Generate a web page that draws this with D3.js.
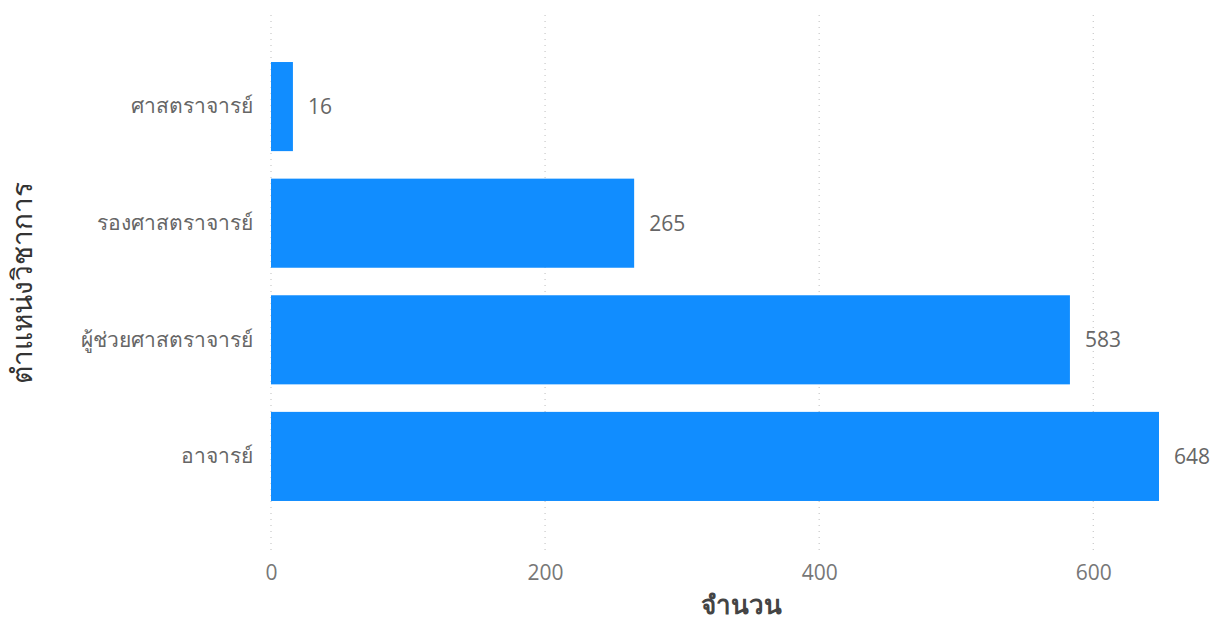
<!DOCTYPE html>
<html><head><meta charset="utf-8">
<script src="https://cdn.jsdelivr.net/npm/d3@7"></script>
<style>
body{margin:0;background:#fff;}
text{font-family:"Segoe UI","Open Sans","Noto Sans","DejaVu Sans",sans-serif;}
</style></head>
<body><svg id="c" width="1212" height="622"></svg>
<script>
const categories = ["ศาสตราจารย์","รองศาสตราจารย์","ผู้ช่วยศาสตราจารย์","อาจารย์"];
const values = [16, 265, 583, 648];
const xTicks = [0, 200, 400, 600];
const xTitle = "จำนวน";
const yTitle = "ตำแหน่งวิชาการ";

const svg = d3.select("#c");
const x = d3.scaleLinear().domain([0, 648]).range([271, 1159]);
const y = d3.scaleBand().domain(categories).range([34.5, 528.5]).paddingInner(0.236).paddingOuter(0.236);

// gridlines
svg.append("g").selectAll("line").data(xTicks).join("line")
  .attr("x1", d=>x(d)).attr("x2", d=>x(d)).attr("y1", 15).attr("y2", 550)
  .attr("stroke", "#bdbdbd").attr("stroke-width", 1).attr("stroke-dasharray", "1,5");

// bars
svg.append("g").selectAll("rect").data(values).join("rect")
  .attr("x", x(0)).attr("y", (d,i)=>y(categories[i]))
  .attr("width", d=>x(d)-x(0)).attr("height", y.bandwidth())
  .attr("fill", "#118dff");

// value labels
svg.append("g").selectAll("text").data(values).join("text")
  .attr("x", d=>x(d)+15).attr("y", (d,i)=>y(categories[i])+y.bandwidth()/2)
  .attr("dy", "0.35em").attr("fill", "#666").attr("font-size", 21).text(d=>d);

// x axis
const xa = svg.append("g").attr("transform", "translate(0,573)")
  .call(d3.axisBottom(x).tickValues(xTicks).tickSize(0).tickPadding(0));
xa.select(".domain").remove();
xa.selectAll("text").attr("fill", "#777").attr("font-size", 21).attr("dy", "0.35em");

// y axis
const ya = svg.append("g").attr("transform", "translate(253,0)")
  .call(d3.axisLeft(y).tickSize(0).tickPadding(0));
ya.select(".domain").remove();
ya.selectAll("text").attr("fill", "#666").attr("font-size", 21);

// titles
svg.append("text").attr("x", 741).attr("y", 605).attr("text-anchor", "middle")
  .attr("dy", "0.35em").attr("font-size", 26).attr("font-weight", "bold").attr("fill", "#444").text(xTitle);
svg.append("text").attr("transform", "translate(22,283) rotate(-90)").attr("text-anchor", "middle")
  .attr("dy", "0.35em").attr("font-size", 28).attr("fill", "#333").text(yTitle);
</script></body></html>
